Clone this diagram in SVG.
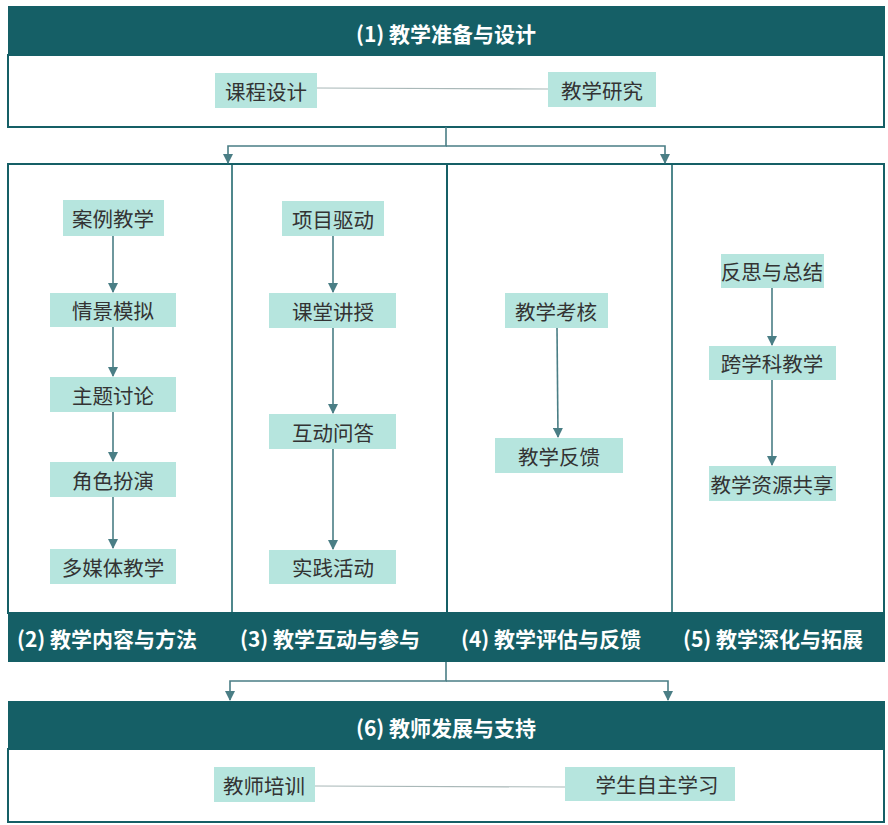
<svg xmlns="http://www.w3.org/2000/svg" width="888" height="825" viewBox="0 0 888 825">
<defs>
<marker id="arr" viewBox="0 0 10 10" refX="9" refY="5" markerWidth="10" markerHeight="10" markerUnits="userSpaceOnUse" orient="auto">
<path d="M0,0 L10,5 L0,10 z" fill="#4a7e85"/>
</marker>
<style>
.hdr{fill:#155f66}
.body{fill:#fff;stroke:#155f66;stroke-width:2}
.col{fill:none;stroke:#155f66;stroke-width:2}
.div{stroke:#155f66;stroke-width:1.5}
.n{fill:#b6e5de}
.t{font-family:"Noto Sans CJK SC","Noto Sans",sans-serif;font-size:20.5px;fill:#333;text-anchor:middle;dominant-baseline:central}
.h{font-family:"Noto Sans CJK SC","Noto Sans",sans-serif;font-size:21px;font-weight:bold;fill:#fff}
.c{fill:none;stroke:#4a7e85;stroke-width:1.6}
.g{fill:none;stroke:#a9b8b8;stroke-width:1.2}
</style>
</defs>

<g id="sec1">
<rect class="body" x="8" y="55" width="876" height="72"/>
<rect class="hdr" x="8" y="6" width="877" height="49"/>
<text class="h" x="446" y="33" text-anchor="middle" dominant-baseline="central">(1) 教学准备与设计</text>
</g>
<g id="n_kcsj"><rect class="n" x="215" y="73" width="102" height="35"/><text class="t" x="266" y="91">课程设计</text></g>
<g id="n_jxyj"><rect class="n" x="548" y="72" width="108" height="35"/><text class="t" x="602" y="90">教学研究</text></g>

<g id="panels">
<rect class="col" x="8" y="164" width="439" height="449"/>
<rect class="col" x="447" y="164" width="437" height="449"/>
<line class="div" x1="232" y1="164" x2="232" y2="613"/>
<line class="div" x1="672" y1="164" x2="672" y2="613"/>
<rect class="hdr" x="8" y="613" width="877" height="49"/>
<text class="h" x="17" y="638" dominant-baseline="central">(2) 教学内容与方法</text>
<text class="h" x="240" y="638" dominant-baseline="central">(3) 教学互动与参与</text>
<text class="h" x="461" y="638" dominant-baseline="central">(4) 教学评估与反馈</text>
<text class="h" x="683" y="638" dominant-baseline="central">(5) 教学深化与拓展</text>
</g>

<g id="n_alxx"><rect class="n" x="63" y="200" width="101" height="36"/><text class="t" x="113" y="218">案例教学</text></g>
<g id="n_qjmn"><rect class="n" x="50" y="293" width="126" height="34"/><text class="t" x="113" y="310">情景模拟</text></g>
<g id="n_ztll"><rect class="n" x="50" y="377" width="126" height="35"/><text class="t" x="113" y="395">主题讨论</text></g>
<g id="n_jsby"><rect class="n" x="50" y="462" width="126" height="35"/><text class="t" x="113" y="480">角色扮演</text></g>
<g id="n_dmt"><rect class="n" x="50" y="549" width="126" height="35"/><text class="t" x="113" y="567">多媒体教学</text></g>

<g id="n_xmqd"><rect class="n" x="282" y="201" width="102" height="35"/><text class="t" x="333" y="219">项目驱动</text></g>
<g id="n_ktjs"><rect class="n" x="269" y="293" width="127" height="35"/><text class="t" x="333" y="311">课堂讲授</text></g>
<g id="n_hdwd"><rect class="n" x="269" y="414" width="127" height="35"/><text class="t" x="333" y="432">互动问答</text></g>
<g id="n_sjhd"><rect class="n" x="269" y="550" width="127" height="34"/><text class="t" x="333" y="567">实践活动</text></g>

<g id="n_jxkh"><rect class="n" x="505" y="293" width="103" height="35"/><text class="t" x="556" y="311">教学考核</text></g>
<g id="n_jxfk"><rect class="n" x="495" y="438" width="128" height="35"/><text class="t" x="559" y="456">教学反馈</text></g>

<g id="n_fszj"><rect class="n" x="721" y="254" width="103" height="34"/><text class="t" x="772" y="271">反思与总结</text></g>
<g id="n_kxk"><rect class="n" x="709" y="346" width="127" height="34"/><text class="t" x="772" y="363">跨学科教学</text></g>
<g id="n_zygx"><rect class="n" x="709" y="466" width="127" height="35"/><text class="t" x="772" y="484">教学资源共享</text></g>

<g id="sec6">
<rect class="body" x="8" y="749" width="876" height="73"/>
<rect class="hdr" x="8" y="701" width="877" height="48"/>
<text class="h" x="446" y="727" text-anchor="middle" dominant-baseline="central">(6) 教师发展与支持</text>
</g>
<g id="n_jspx"><rect class="n" x="214" y="767" width="101" height="35"/><text class="t" x="264" y="785">教师培训</text></g>
<g id="n_xszz"><rect class="n" x="565" y="767" width="170" height="34"/><text class="t" x="657" y="784">学生自主学习</text></g>

<g id="connectors">
<line class="g" x1="317" y1="88" x2="548" y2="89"/>
<line class="g" x1="315" y1="786" x2="565" y2="787"/>
<path class="c" d="M446,127 V146 H228 V163" marker-end="url(#arr)"/>
<path class="c" d="M446,146 H665 V163" marker-end="url(#arr)"/>
<path class="c" d="M113,236 V292" marker-end="url(#arr)"/>
<path class="c" d="M113,327 V376" marker-end="url(#arr)"/>
<path class="c" d="M113,412 V461" marker-end="url(#arr)"/>
<path class="c" d="M113,497 V548" marker-end="url(#arr)"/>
<path class="c" d="M333,236 V292" marker-end="url(#arr)"/>
<path class="c" d="M333,328 V413" marker-end="url(#arr)"/>
<path class="c" d="M333,449 V549" marker-end="url(#arr)"/>
<path class="c" d="M557,328 L558,437" marker-end="url(#arr)"/>
<path class="c" d="M772,288 V345" marker-end="url(#arr)"/>
<path class="c" d="M772,380 V465" marker-end="url(#arr)"/>
<path class="c" d="M446,662 V681 H230 V700" marker-end="url(#arr)"/>
<path class="c" d="M446,681 H668 V700" marker-end="url(#arr)"/>
</g>
</svg>
